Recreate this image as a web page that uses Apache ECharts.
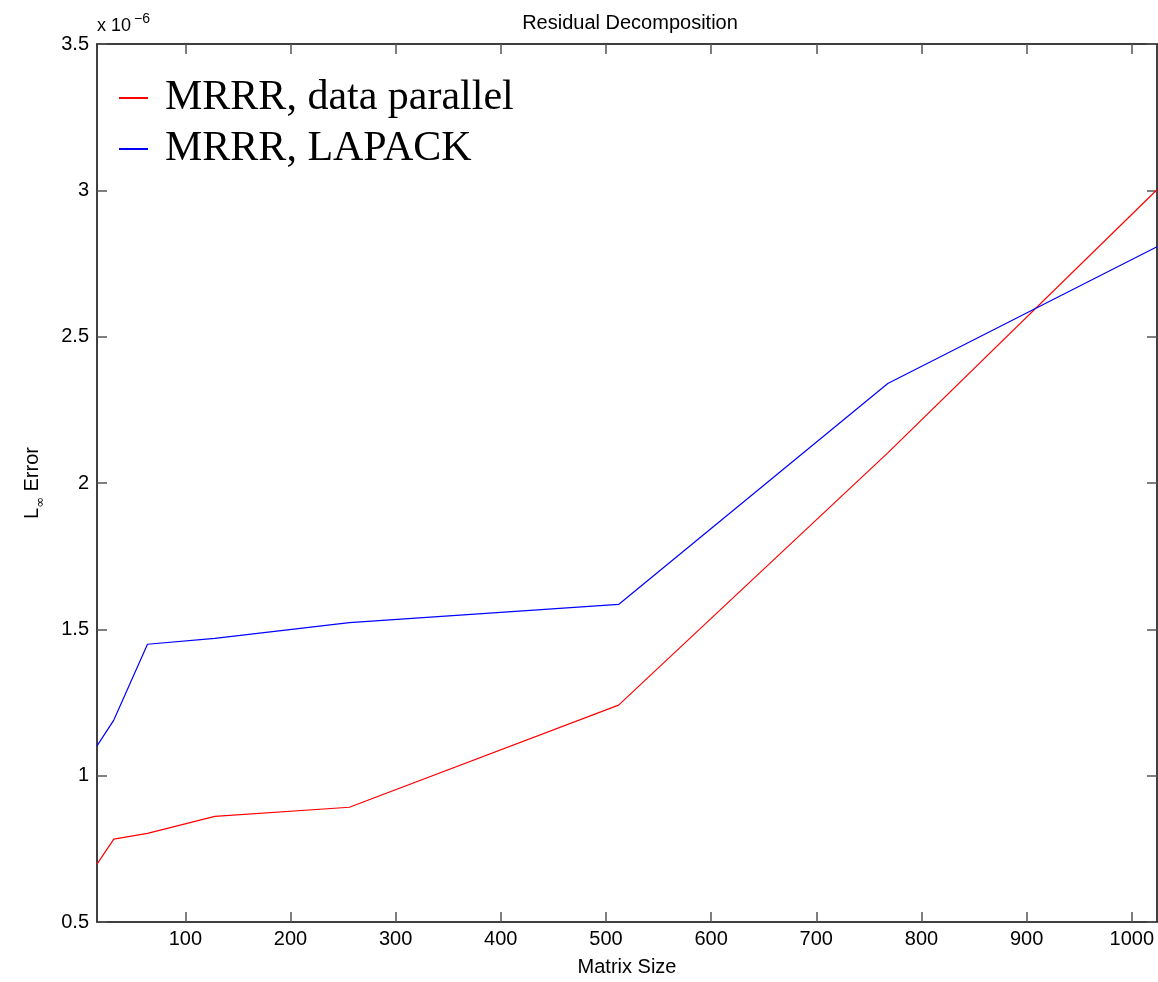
<!DOCTYPE html>
<html style="height: 100%">
<head>
<meta charset="utf-8">
<script src="https://cdn.jsdelivr.net/npm/echarts@6/dist/echarts.min.js"></script>
</head>
<body style="height: 100%; margin: 0; background: #fff">
<div id="container" style="width: 1158px; height: 982px"></div>
<script>
// matrix sizes (x) and errors (units of 1e-6)
var sizes = [16, 32, 64, 128, 256, 512, 768, 1024];
var dataParallel = [0.698, 0.783, 0.803, 0.861, 0.892, 1.241, 2.103, 3.002];
var lapack = [1.102, 1.190, 1.449, 1.469, 1.523, 1.585, 2.340, 2.807];
var xTicks = [100, 200, 300, 400, 500, 600, 700, 800, 900, 1000];
var seriesNames = ['MRRR, data parallel', 'MRRR, LAPACK'];

function pairs(vals) {
    return sizes.map(function (s, i) { return [s, vals[i]]; });
}

var font = 'Liberation Sans';
var myChart = echarts.init(document.getElementById('container'));

var tickStyle = { show: true, inside: true, length: 10, lineStyle: { color: '#555', width: 1.5 } };
var lineStyle = { show: true, lineStyle: { color: '#000', width: 1.5 } };

var option = {
    animation: false,
    backgroundColor: '#fff',
    title: {
        text: 'Residual Decomposition',
        left: 625, top: 8, textAlign: 'center',
        textStyle: { fontFamily: font, fontSize: 20, fontWeight: 'normal', color: '#000' }
    },
    graphic: [{
        type: 'text', left: 97, top: 12,
        style: {
            text: 'x 10{sup|\u22126}',
            fontFamily: font, fontSize: 18, fill: '#000',
            rich: { sup: { fontFamily: font, fontSize: 14, padding: [0, 0, 14, 3] } }
        }
    }],
    legend: {
        orient: 'vertical', left: 114, top: 72,
        itemGap: 9, itemWidth: 29, itemHeight: 2, icon: 'rect',
        data: seriesNames,
        textStyle: { fontFamily: 'Liberation Serif', fontSize: 42, color: '#000', padding: [0, 0, 0, 12] }
    },
    grid: { left: 97, right: 1, top: 44, bottom: 59, containLabel: false },
    xAxis: [{
        type: 'value', min: 16, max: 1024,
        name: 'Matrix Size', nameLocation: 'middle', nameGap: 35,
        nameTextStyle: { fontFamily: font, fontSize: 20, color: '#000' },
        axisLine: lineStyle,
        axisTick: Object.assign({ customValues: xTicks }, tickStyle),
        axisLabel: {
            customValues: xTicks, fontFamily: font, fontSize: 20, color: '#000', margin: 7,
            formatter: function (v) { return String(v); }
        },
        splitLine: { show: false }
    }, {
        type: 'value', min: 16, max: 1024, position: 'top',
        axisLine: lineStyle,
        axisTick: Object.assign({ customValues: xTicks }, tickStyle),
        axisLabel: { show: false },
        splitLine: { show: false }
    }],
    yAxis: [{
        type: 'value', min: 0.5, max: 3.5, interval: 0.5,
        name: '{b|L}{sub|\u221e}{b| Error}', nameLocation: 'middle', nameGap: 50,
        nameTextStyle: {
            fontFamily: font, fontSize: 20, color: '#000',
            rich: {
                b: { fontFamily: font, fontSize: 20, lineHeight: 20, verticalAlign: 'top' },
                sub: { fontFamily: 'DejaVu Sans', fontSize: 13, verticalAlign: 'top', padding: [12, 0, 0, 0] }
            }
        },
        axisLine: lineStyle,
        axisTick: tickStyle,
        axisLabel: { fontFamily: font, fontSize: 20, color: '#000', margin: 8 },
        splitLine: { show: false }
    }, {
        type: 'value', min: 0.5, max: 3.5, interval: 0.5, position: 'right',
        axisLine: lineStyle,
        axisTick: tickStyle,
        axisLabel: { show: false },
        splitLine: { show: false }
    }],
    series: [{
        name: seriesNames[0], type: 'line', showSymbol: false,
        xAxisIndex: 0, yAxisIndex: 0,
        itemStyle: { color: '#ff0000' },
        lineStyle: { color: '#ff0000', width: 1.2 },
        data: pairs(dataParallel)
    }, {
        name: seriesNames[1], type: 'line', showSymbol: false,
        xAxisIndex: 0, yAxisIndex: 0,
        itemStyle: { color: '#0000ff' },
        lineStyle: { color: '#0000ff', width: 1.2 },
        data: pairs(lapack)
    }]
};

myChart.setOption(option);
</script>
</body>
</html>
